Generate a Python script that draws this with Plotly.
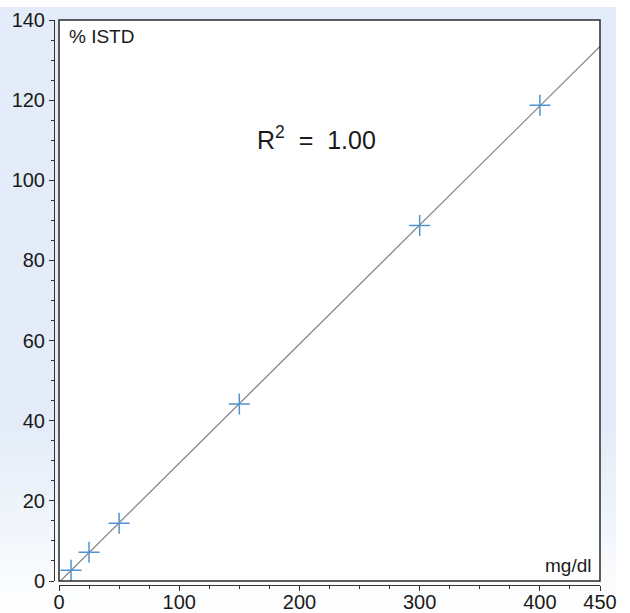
import numpy as np
import plotly.graph_objects as go

# ---- data ----
conc_mg_dl = [10, 25, 50, 150, 300, 400]
pct_istd = [2.7, 7.2, 14.4, 44.2, 88.7, 118.7]
x_tick_vals = [0, 100, 200, 300, 400, 450]
y_tick_vals = [0, 20, 40, 60, 80, 100, 120, 140]
r_squared_label = "1.00"

# linear calibration fit through the points
slope, intercept = np.polyfit(conc_mg_dl, pct_istd, 1)
fit_x = [0, 450]
fit_y = [intercept + slope * v for v in fit_x]

W, H = 630, 613
ML, MR, MT, MB = 54, 30, 20, 28
PW, PH = W - ML - MR, H - MT - MB
FONT = "Liberation Sans, Arial, sans-serif"

def xp(px):
    return (px - ML) / PW

def yp(py):
    return (H - MB - py) / PH

fig = go.Figure()
fig.add_trace(go.Scatter(x=fit_x, y=fit_y, mode="lines",
                         line=dict(color="#7f7f7f", width=1.2),
                         hoverinfo="skip", showlegend=False))
fig.add_trace(go.Scatter(x=conc_mg_dl, y=pct_istd, mode="markers",
                         marker=dict(symbol="cross-thin", size=15,
                                     line=dict(color="#4f93d0", width=1.5)),
                         showlegend=False))

shapes = []
# light-blue background panel with a fade toward the bottom
top = np.array([227, 236, 248])
step = 8
for py in range(7, 613, step):
    t = min(max((py - 420) / 190.0, 0.0), 1.0)
    c = top + (np.array([255, 255, 255]) - top) * t
    shapes.append(dict(type="rect", xref="paper", yref="paper",
                       x0=xp(0), x1=xp(616), y0=yp(min(py + step, 613)), y1=yp(py),
                       line=dict(width=0),
                       fillcolor="rgb(%d,%d,%d)" % tuple(c.astype(int)),
                       layer="below"))
# white plot panel over the background
shapes.append(dict(type="rect", xref="paper", yref="paper",
                   x0=xp(59), x1=xp(600), y0=yp(581), y1=yp(20),
                   line=dict(width=0), fillcolor="white", layer="below"))
# plot frame
shapes.append(dict(type="rect", xref="x domain", yref="y domain",
                   x0=0, x1=1, y0=0, y1=1,
                   line=dict(color="#2a2a2a", width=1.5),
                   fillcolor="rgba(0,0,0,0)", layer="above"))

axis_common = dict(showgrid=False, zeroline=False, showline=True,
                   linecolor="#333333", linewidth=1, ticks="outside",
                   ticklen=5, tickwidth=1, tickcolor="#333333",
                   tickfont=dict(family=FONT, size=20, color="#1a1a1a"),
                   automargin=False, fixedrange=True)

fig.update_layout(
    width=W, height=H, autosize=False,
    margin=dict(l=ML, r=MR, t=MT, b=MB, pad=0, autoexpand=False),
    paper_bgcolor="white",
    plot_bgcolor="white",
    shapes=shapes,
    xaxis=dict(range=[0, 450], domain=[5 / PW, 1], anchor="free", position=0,
               tickmode="array", tickvals=x_tick_vals, ticklabelstandoff=-6,
               minor=dict(tickvals=list(range(0, 451, 25)), ticks="outside",
                          ticklen=3, tickcolor="#333333"),
               **axis_common),
    yaxis=dict(range=[0, 140], domain=[4 / PH, 1], anchor="free", position=0,
               tickmode="array", tickvals=y_tick_vals,
               minor=dict(tickvals=list(range(0, 141, 5)), ticks="outside",
                          ticklen=3, tickcolor="#333333"),
               **axis_common),
    annotations=[
        dict(text="% ISTD", xref="x domain", yref="y domain",
             x=(67 - 59) / 541, y=(581 - 37) / 561, xanchor="left", yanchor="middle",
             showarrow=False, font=dict(family=FONT, size=19, color="#1a1a1a")),
        dict(text="mg/dl", xref="x domain", yref="y domain",
             x=(593 - 59) / 541, y=(581 - 565) / 561, xanchor="right", yanchor="middle",
             showarrow=False, font=dict(family=FONT, size=19, color="#1a1a1a")),
        dict(text="R<sup>2</sup>&nbsp;&nbsp;=&nbsp;&nbsp;" + r_squared_label,
             xref="x domain", yref="y domain",
             x=(255 - 59) / 541, y=(581 - 138) / 561, xanchor="left", yanchor="middle",
             showarrow=False, font=dict(family=FONT, size=25, color="#1a1a1a")),
    ],
)

fig.write_html("out.html",
               config={"displayModeBar": False, "staticPlot": False},
               post_script="document.body.style.margin='0';document.body.style.padding='0';"
                           "document.documentElement.style.overflow='hidden';")
